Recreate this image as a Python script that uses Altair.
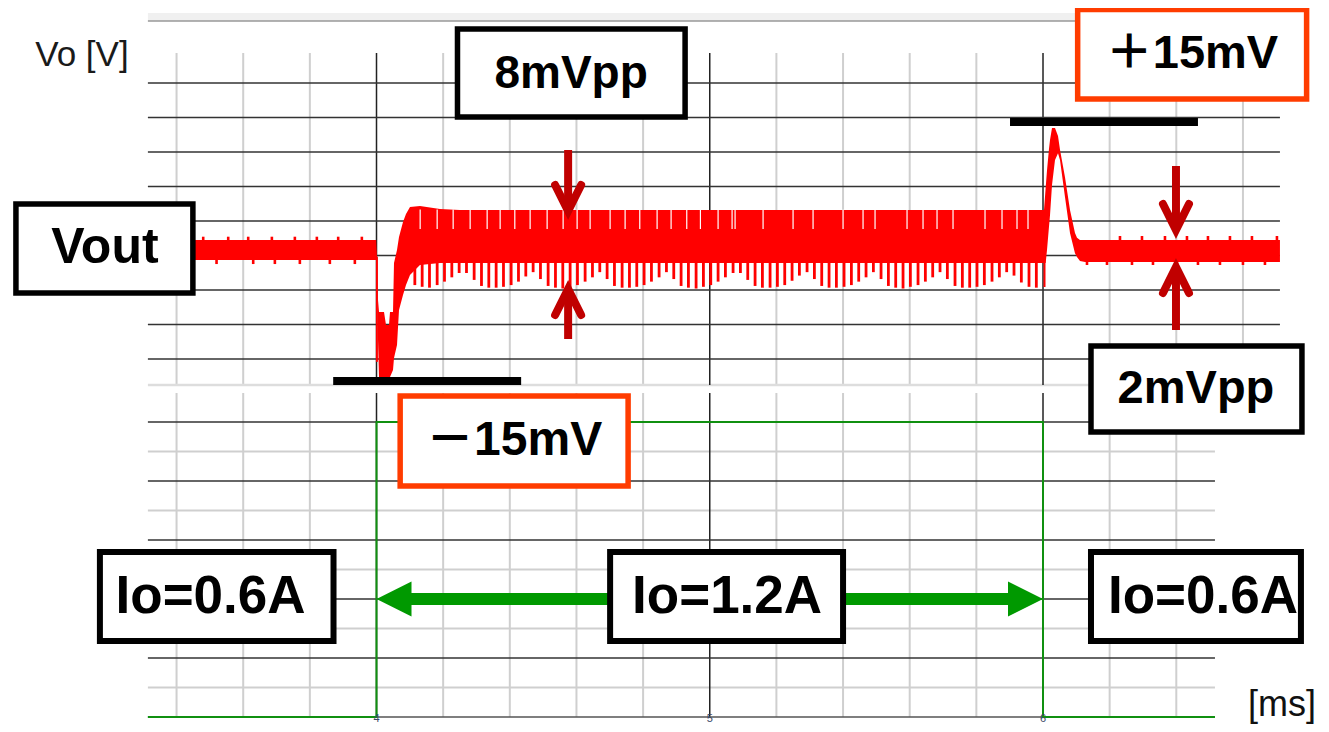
import altair as alt
import pandas as pd

W, H = 1313, 716
X_DOMAIN = [2.8942, 6.8342]      # ms
MV_DOMAIN = [-55.188, 27.826]    # mV (relative to Vout)
A_DOMAIN = [0.58576, 2.04202]    # A

# ---------------- panel frames / grid ----------------
TOP_X = [3.314, 6.711]
TOP_Y = [-15.88, 22.61]
BOT_X = [3.314, 6.516]
BOT_Y = [0.6, 1.259]
BAND_Y = [26.32, 27.25]

minor_x_top = [3.4, 3.6, 3.8, 4.2, 4.4, 4.6, 4.8, 5.2, 5.4, 5.6, 5.8, 6.2, 6.4, 6.6]
minor_x_bot = [3.4, 3.6, 3.8, 4.2, 4.4, 4.6, 4.8, 5.2, 5.4, 5.6, 5.8, 6.2, 6.4]
major_x = [4, 5, 6]
top_h = [19.13, 15.13, 11.13, 7.13, 3.13, -0.87, -4.87, -8.87, -12.87]
bot_h_dark = [1.2, 1.08, 0.96, 0.84, 0.72]
bot_h_light = [1.14, 1.02, 0.90, 0.78, 0.66]
tick_labels = ["4", "5", "6"]
tick_label_v = 0.5862

# ---------------- Vout trace (mV) ----------------
env_t = [3.314, 3.999, 4.0015, 4.0045, 4.0075, 4.0225, 4.0285, 4.0375, 4.0405, 4.0495,
         4.0525, 4.0615, 4.0675, 4.0795, 4.0885, 4.1005, 4.1305, 4.1905, 4.25, 6.003,
         6.008, 6.012, 6.018, 6.021, 6.027, 6.036, 6.045, 6.051, 6.066, 6.081,
         6.096, 6.102, 6.111, 6.126, 6.711]
env_up = [0.93, 0.93, -1.04, -6.03, -7.42, -7.42, -8.93, -8.93, -7.42, -7.42,
          -1.74, -0.23, 1.28, 3.01, 3.94, 4.75, 4.87, 4.52, 4.41, 4.41,
          7.0, 9.0, 11.5, 12.52, 13.91, 13.91, 13.0, 11.4, 8.2, 4.4,
          1.74, 1.2, 0.93, 0.93, 0.93]
env_lo = [-1.39, -1.39, -1.62, -10.67, -14.96, -14.96, -14.96, -14.96, -14.96, -14.14,
          -12.75, -11.25, -7.19, -5.45, -4.29, -3.13, -1.97, -1.74, -1.74, -1.74,
          -1.74, -0.23, 2.5, 3.8, 7.3, 10.2, 11.0, 10.2, 5.9, 1.74,
          -0.6, -1.04, -1.5, -1.62, -1.62]

spike_t = [4.115, 4.137, 4.159, 4.182, 4.204, 4.226, 4.248, 4.270, 4.293, 4.315,
           4.337, 4.359, 4.381, 4.404, 4.426, 4.448, 4.470, 4.492, 4.515, 4.537,
           4.559, 4.581, 4.603, 4.626, 4.648, 4.670, 4.692, 4.714, 4.737, 4.759,
           4.781, 4.803, 4.825, 4.848, 4.870, 4.892, 4.914, 4.936, 4.959, 4.981,
           5.003, 5.025, 5.047, 5.070, 5.092, 5.114, 5.136, 5.158, 5.181, 5.203,
           5.225, 5.247, 5.269, 5.292, 5.314, 5.336, 5.358, 5.380, 5.403, 5.425,
           5.447, 5.469, 5.491, 5.514, 5.536, 5.558, 5.580, 5.602, 5.625, 5.647,
           5.669, 5.691, 5.713, 5.736, 5.758, 5.780, 5.802, 5.824, 5.847, 5.869,
           5.891, 5.913, 5.935, 5.958, 5.980]
spike_lo = [-4.3, -4.5, -4.6, -4.3, -3.9, -3.4, -2.9, -2.9, -3.7, -4.4,
            -4.6, -4.6, -4.5, -4.3, -3.9, -3.3, -2.8, -3.6, -4.4, -4.6,
            -4.7, -4.6, -4.3, -3.9, -3.4, -2.8, -3.6, -4.4, -4.6, -4.6,
            -4.5, -4.3, -3.9, -3.4, -2.8, -3.6, -4.4, -4.6, -4.7, -4.5,
            -4.3, -3.9, -3.4, -2.9, -2.9, -3.7, -4.4, -4.6, -4.6, -4.5,
            -4.3, -3.8, -3.2, -2.8, -3.6, -4.4, -4.6, -4.6, -4.5, -4.3,
            -3.9, -3.4, -2.8, -3.6, -4.4, -4.6, -4.7, -4.5, -4.3, -3.9,
            -3.4, -2.8, -3.6, -4.4, -4.6, -4.6, -4.5, -4.3, -3.9, -3.4,
            -2.8, -3.2, -4.0, -4.5, -4.6]
spike_hi = -1.2

notch_t = [4.131, 4.182, 4.230, 4.281, 4.332, 4.371, 4.415, 4.461, 4.512, 4.560,
           4.602, 4.641, 4.701, 4.746, 4.790, 4.842, 4.884, 4.931, 4.972, 5.025,
           5.067, 5.076, 5.160, 5.250, 5.310, 5.400, 5.460, 5.496, 5.592, 5.640,
           5.682, 5.730, 5.826, 5.877, 5.922, 5.955]
notch_range = [4.45, 2.2]

bump_up_t = [3.480, 3.555, 3.615, 3.686, 3.755, 3.821, 3.885, 3.956,
             6.231, 6.297, 6.366, 6.432, 6.495, 6.561, 6.627, 6.702]
bump_up_hi = [1.31, 1.31, 1.31, 1.31, 1.31, 1.31, 1.31, 1.31,
              1.39, 1.39, 1.39, 1.39, 1.39, 1.39, 1.39, 1.39]
bump_dn_t = [3.520, 3.630, 3.695, 3.770, 3.860, 3.935,
             6.132, 6.192, 6.267, 6.330, 6.402, 6.465, 6.531, 6.600, 6.666]
bump_dn_lo = [-1.86, -1.86, -1.86, -1.86, -1.86, -1.86,
              -1.97, -1.97, -1.97, -1.97, -1.97, -1.97, -1.97, -1.97, -1.97]
edge_t = [4.0012, 6.0045]
edge_hi = [-1.0, 4.41]
edge_lo = [-13.2, -4.52]

# ---------------- Io trace (A) ----------------
io_t = [3.314, 4.0, 4.0, 6.0, 6.0, 6.516]
io_a = [0.6, 0.6, 1.2, 1.2, 0.6, 0.6]

# ---------------- annotations ----------------
box_mv = {  # label: (t1, t2, v1, v2, colour, text t, text v, size)
    "8mVpp": (4.243, 4.926, 25.39, 15.19, "black", 4.584, 20.17, 46),
    "＋15mV": (6.104, 6.791, 27.65, 17.28, "#FF3C00", 6.447, 22.49, 47),
    "Vout": (2.918, 3.449, 5.10, -5.22, "black", 3.185, 0.0, 50),
    "－15mV": (4.071, 4.755, -17.16, -27.59, "#FF3C00", 4.413, -22.38, 48),
    "2mVpp": (6.144, 6.777, -11.36, -21.33, "black", 6.459, -16.35, 47),
}
box_a_t1 = [3.170, 4.701, 6.144]
box_a_t2 = [3.871, 5.400, 6.774]
box_a_v = [0.9356, 0.7546]
box_a_labels = ["Io=0.6A", "Io=1.2A", "Io=0.6A"]
box_a_text_t = [3.502, 5.052, 6.480]
box_a_text_v = 0.844

bar_t1 = [3.870, 5.901]
bar_t2 = [4.434, 6.465]
bar_v = [-15.42, 14.61]

arrow_red_t = [4.575, 6.399]
arrow_down_shaft = [(11.36, 4.6), (9.51, 2.4)]
arrow_down_tip = [4.29, 2.09]
arrow_up_shaft = [(-10.55, -5.1), (-9.51, -2.5)]
arrow_up_tip = [-4.75, -2.20]

green_arrow_v = 0.84
green_arrow_t = [4.0, 6.0]
green_shaft = [4.09, 5.91]

FONT = "Liberation Sans, Arial, Noto Sans CJK JP"


# ---------------- helpers ----------------
def X(f="t"):
    return alt.X(f"{f}:Q", scale=alt.Scale(domain=X_DOMAIN, nice=False, zero=False), axis=None)


def Y(f, dom):
    return alt.Y(f"{f}:Q", scale=alt.Scale(domain=dom, nice=False, zero=False), axis=None)


def vrules(ts, y1, y2, dom, color, width):
    n = len(ts)
    y1 = y1 if isinstance(y1, list) else [y1] * n
    y2 = y2 if isinstance(y2, list) else [y2] * n
    df = pd.DataFrame({"t": ts, "a": y1, "b": y2})
    return alt.Chart(df).mark_rule(color=color, strokeWidth=width, opacity=1).encode(
        x=X(), y=Y("a", dom), y2=alt.Y2("b:Q"))


def hrules(vs, t1, t2, dom, color, width):
    n = len(vs)
    t1 = t1 if isinstance(t1, list) else [t1] * n
    t2 = t2 if isinstance(t2, list) else [t2] * n
    df = pd.DataFrame({"t": t1, "t2": t2, "v": vs})
    return alt.Chart(df).mark_rule(color=color, strokeWidth=width, opacity=1).encode(
        x=X(), x2=alt.X2("t2:Q"), y=Y("v", dom))


layers = []

# top band and panel grid
layers.append(alt.Chart(pd.DataFrame({"t": [TOP_X[0]], "t2": [TOP_X[1]], "a": [BAND_Y[0]], "b": [BAND_Y[1]]}))
              .mark_rect(color="#f0f0f0", opacity=1)
              .encode(x=X(), x2=alt.X2("t2:Q"), y=Y("a", MV_DOMAIN), y2=alt.Y2("b:Q")))
layers.append(hrules([BAND_Y[0]], TOP_X[0], TOP_X[1], MV_DOMAIN, "#999999", 1.5))
layers.append(vrules(minor_x_top, TOP_Y[0], TOP_Y[1], MV_DOMAIN, "#cfcfcf", 2))
layers.append(vrules(minor_x_bot, BOT_Y[0], BOT_Y[1], A_DOMAIN, "#cfcfcf", 2))
layers.append(hrules(bot_h_light, BOT_X[0], BOT_X[1], A_DOMAIN, "#cfcfcf", 2))
layers.append(hrules([TOP_Y[0]], TOP_X[0], TOP_X[1], MV_DOMAIN, "#dddddd", 2.5))
layers.append(vrules(major_x, TOP_Y[0], TOP_Y[1], MV_DOMAIN, "#222222", 1.5))
layers.append(vrules(major_x, BOT_Y[0], BOT_Y[1], A_DOMAIN, "#222222", 1.5))
layers.append(hrules(top_h, TOP_X[0], TOP_X[1], MV_DOMAIN, "#333333", 1.5))
layers.append(hrules(bot_h_dark, BOT_X[0], BOT_X[1], A_DOMAIN, "#333333", 1.3))
layers.append(hrules([BOT_Y[0]], BOT_X[0], BOT_X[1], A_DOMAIN, "#555555", 1.5))

# Io trace
layers.append(alt.Chart(pd.DataFrame({"t": io_t, "v": io_a, "o": list(range(len(io_t)))}))
              .mark_line(color="#109010", strokeWidth=2, opacity=1)
              .encode(x=X(), y=Y("v", A_DOMAIN), order="o:Q"))

# tick labels
layers.append(alt.Chart(pd.DataFrame({"t": major_x, "v": [tick_label_v] * 3, "s": tick_labels}))
              .mark_text(font=FONT, fontSize=11, color="#3a4766", align="center", baseline="bottom")
              .encode(x=X(), y=Y("v", A_DOMAIN), text="s:N"))

# Vout trace
layers.append(alt.Chart(pd.DataFrame({"t": env_t, "a": env_up, "b": env_lo}))
              .mark_area(color="#FF0000", opacity=1)
              .encode(x=X(), y=Y("a", MV_DOMAIN), y2=alt.Y2("b:Q")))
layers.append(vrules(spike_t, spike_hi, spike_lo, MV_DOMAIN, "#FF0000", 2.8))
layers.append(vrules(bump_up_t, 0.5, bump_up_hi, MV_DOMAIN, "#FF0000", 2.6))
layers.append(vrules(bump_dn_t, -1.0, bump_dn_lo, MV_DOMAIN, "#FF0000", 2.6))
layers.append(vrules(edge_t, edge_hi, edge_lo, MV_DOMAIN, "#FF0000", 2))
layers.append(vrules(notch_t, notch_range[0], notch_range[1], MV_DOMAIN, "white", 1.2))

# black level bars
layers.append(alt.Chart(pd.DataFrame({"t": bar_t1, "t2": bar_t2, "v": bar_v}))
              .mark_rule(color="black", strokeWidth=8, opacity=1)
              .encode(x=X(), x2=alt.X2("t2:Q"), y=Y("v", MV_DOMAIN)))

# green double arrow
layers.append(hrules([green_arrow_v], green_shaft[0], green_shaft[1], A_DOMAIN, "#009900", 12))
for t, path in zip(green_arrow_t, ["M0,0L2,-1L2,1Z", "M0,0L-2,-1L-2,1Z"]):
    layers.append(alt.Chart(pd.DataFrame({"t": [t], "v": [green_arrow_v]}))
                  .mark_point(shape=path, filled=True, size=1225, color="#009900", opacity=1, strokeWidth=0)
                  .encode(x=X(), y=Y("v", A_DOMAIN)))

# annotation boxes (mV scale)
rows = []
for lab, (t1, t2, v1, v2, col, tt, tv, fs) in box_mv.items():
    rows.append({"t": t1, "t2": t2, "a": v1, "b": v2, "c": col, "lab": lab, "tt": tt, "tv": tv, "fs": fs})
bdf = pd.DataFrame(rows)
layers.append(alt.Chart(bdf).mark_rect(fill="white", strokeWidth=5.5, opacity=1)
              .encode(x=X(), x2=alt.X2("t2:Q"), y=Y("a", MV_DOMAIN), y2=alt.Y2("b:Q"),
                      stroke=alt.Stroke("c:N", scale=None)))
for fs in sorted(set(bdf["fs"])):
    sub = bdf[bdf["fs"] == fs]
    layers.append(alt.Chart(sub).mark_text(font=FONT, fontSize=int(fs), fontWeight="bold", color="black",
                                           align="center", baseline="middle")
                  .encode(x=X("tt"), y=Y("tv", MV_DOMAIN), text="lab:N"))

# annotation boxes (A scale)
adf = pd.DataFrame({"t": box_a_t1, "t2": box_a_t2, "a": [box_a_v[0]] * 3, "b": [box_a_v[1]] * 3,
                    "tt": box_a_text_t, "tv": [box_a_text_v] * 3, "lab": box_a_labels})
layers.append(alt.Chart(adf).mark_rect(fill="white", stroke="black", strokeWidth=6, opacity=1)
              .encode(x=X(), x2=alt.X2("t2:Q"), y=Y("a", A_DOMAIN), y2=alt.Y2("b:Q")))
layers.append(alt.Chart(adf).mark_text(font=FONT, fontSize=53, fontWeight="bold", color="black",
                                       align="center", baseline="middle")
              .encode(x=X("tt"), y=Y("tv", A_DOMAIN), text="lab:N"))

# axis titles
layers.append(alt.Chart(pd.DataFrame({"t": [3.116], "v": [22.38], "s": ["Vo [V]"]}))
              .mark_text(font=FONT, fontSize=35, color="#1a1a1a", align="center", baseline="middle")
              .encode(x=X(), y=Y("v", MV_DOMAIN), text="s:N"))
layers.append(alt.Chart(pd.DataFrame({"t": [6.717], "v": [0.6244], "s": ["[ms]"]}))
              .mark_text(font=FONT, fontSize=36, color="#111111", align="center", baseline="middle")
              .encode(x=X(), y=Y("v", A_DOMAIN), text="s:N"))

# dark red arrows
RED = "#C00000"
for t, (s1, s2), tip in zip(arrow_red_t, arrow_down_shaft, arrow_down_tip):
    layers.append(vrules([t], s1, s2, MV_DOMAIN, RED, 8))
    layers.append(alt.Chart(pd.DataFrame({"t": [t], "v": [tip]}))
                  .mark_point(shape="M-1,-2L0,0L1,-2", filled=False, size=676, color=RED, strokeWidth=8,
                              strokeCap="round", strokeJoin="miter", opacity=1)
                  .encode(x=X(), y=Y("v", MV_DOMAIN)))
for t, (s1, s2), tip in zip(arrow_red_t, arrow_up_shaft, arrow_up_tip):
    layers.append(vrules([t], s1, s2, MV_DOMAIN, RED, 8))
    layers.append(alt.Chart(pd.DataFrame({"t": [t], "v": [tip]}))
                  .mark_point(shape="M-1,2L0,0L1,2", filled=False, size=676, color=RED, strokeWidth=8,
                              strokeCap="round", strokeJoin="miter", opacity=1)
                  .encode(x=X(), y=Y("v", MV_DOMAIN)))

chart = (alt.layer(*layers)
         .resolve_scale(y="independent")
         .properties(width=W, height=H, padding=0, autosize=alt.AutoSizeParams(type="none"),
                     background="white")
         .configure_view(stroke=None))

chart.save("out.html", embed_options={"renderer": "svg", "actions": False})
